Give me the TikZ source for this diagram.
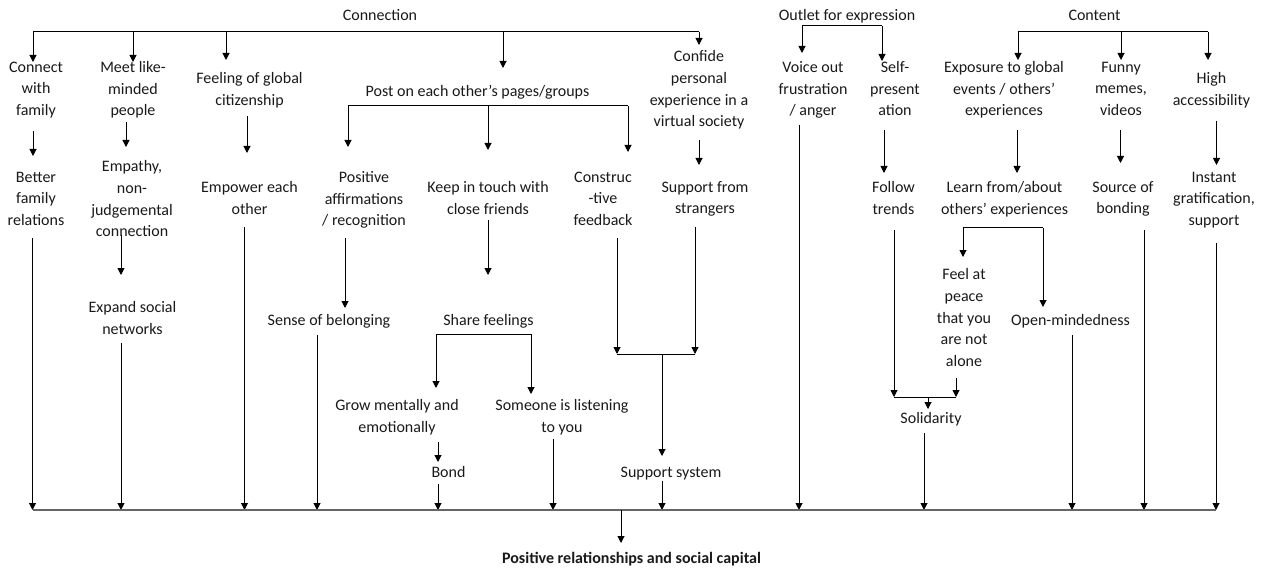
\documentclass[tikz,border=0pt]{standalone}
\usepackage{fontspec}
\setmainfont{Carlito}
\usetikzlibrary{arrows.meta}
% fixed line box so that every label has a predictable height
\newcommand\lblstrut{\vrule width 0pt height 15pt depth 6.7pt\relax}
\begin{document}
\begin{tikzpicture}[x=1pt,y=-1pt,
  line/.style={draw=black, line width=1pt},
  busline/.style={draw=black!60, line width=1.5pt},
  arr/.style={line, -{Triangle[width=7pt,length=7pt]}},
  rarr/.style={line, {Triangle[width=7pt,length=7pt]}-},
  lbl/.style={align=center, inner sep=0pt, text=black!90,
    font=\fontsize{16}{21.7}\selectfont,
    execute at begin node=\lblstrut, execute at end node=\lblstrut},
  head/.style={lbl, font=\fontsize{16}{21.7}\selectfont\bfseries}]
\useasboundingbox (0,0) rectangle (1269,572);

% headings
\node[lbl] (connection) at (380,16) {Connection};
\node[lbl] (outlet) at (847,16) {Outlet for expression};
\node[lbl] (content) at (1094.5,16) {Content};

% first row
\node[lbl] (connect) at (36,92) {Connect\\with\\family};
\node[lbl] (meet) at (133,92) {Meet like-\\minded\\people};
\node[lbl] (feeling) at (249.5,92) {Feeling of global\\citizenship};
\node[lbl] (post) at (477.5,92) {Post on each other’s pages/groups};
\node[lbl] (confide) at (699,92) {Confide\\personal\\experience in a\\virtual society};
\node[lbl] (voice) at (813,92) {Voice out\\frustration\\/ anger};
\node[lbl] (self) at (895,92) {Self-\\present\\ation};
\node[lbl] (exposure) at (1004,92) {Exposure to global\\events / others’\\experiences};
\node[lbl] (funny) at (1121,92) {Funny\\memes,\\videos};
\node[lbl] (high) at (1211.5,92) {High\\accessibility};

% second row
\node[lbl] (better) at (36,202) {Better\\family\\relations};
\node[lbl] (empathy) at (132,202) {Empathy,\\non-\\judgemental\\connection};
\node[lbl] (empower) at (249.5,201) {Empower each\\other};
\node[lbl] (positive) at (364,202) {Positive\\affirmations\\/ recognition};
\node[lbl] (keep) at (488,201) {Keep in touch with\\close friends};
\node[lbl] (construc) at (603,202) {Construc\\-tive\\feedback};
\node[lbl] (support) at (705,201) {Support from\\strangers};
\node[lbl] (follow) at (893.5,201) {Follow\\trends};
\node[lbl] (learn) at (1004.5,201) {Learn from/about\\others’ experiences};
\node[lbl] (source) at (1123,201) {Source of\\bonding};
\node[lbl] (instant) at (1214,202) {Instant\\gratification,\\support};

% lower rows
\node[lbl] (expand) at (132.5,321) {Expand social\\networks};
\node[lbl] (belong) at (329,321) {Sense of belonging};
\node[lbl] (share) at (488.5,321) {Share feelings};
\node[lbl] (feel) at (964,321) {Feel at\\peace\\that you\\are not\\alone};
\node[lbl] (open) at (1070.5,321) {Open-mindedness};
\node[lbl] (grow) at (397,419.5) {Grow mentally and\\emotionally};
\node[lbl] (listen) at (562,419.5) {Someone is listening\\to you};
\node[lbl] (solidarity) at (931,419) {Solidarity};
\node[lbl] (bond) at (448.5,473) {Bond};
\node[lbl] (supsys) at (671,473) {Support system};
\node[head] (final) at (631.5,559) {Positive relationships and social capital};

% horizontal distribution lines
\coordinate (cbus) at ([shift={(0,16)}]connection.center);
\coordinate (obus) at ([shift={(0,10)}]outlet.center);
\coordinate (nbus) at ([shift={(0,16)}]content.center);
\coordinate (pbus) at ([shift={(0,14)}]post.center);
\coordinate (sbus) at ([shift={(0,13)}]share.center);
\coordinate (lbus) at ([shift={(0,27)}]learn.center);
\coordinate (jbus) at (656,354);
\coordinate (kbus) at (925,397);
\coordinate (bus) at ([shift={(0,-49)}]final.center);

% Connection branches
\draw[rarr] ([shift={(-3,-30)}]connect.center) coordinate (c1) -- (c1 |- cbus);
\draw[rarr] ([shift={(0,-30)}]meet.center) coordinate (c2) -- (c2 |- cbus);
\draw[rarr] ([shift={(-23.5,-32)}]feeling.center) coordinate (c3) -- (c3 |- cbus);
\draw[rarr] ([shift={(25.5,-24)}]post.center) coordinate (c4) -- (c4 |- cbus);
\draw[rarr] ([shift={(0,-47)}]confide.center) coordinate (c5) -- (c5 |- cbus);
\draw[line] (c1 |- cbus) -- (c5 |- cbus);

% Outlet for expression branches
\draw[rarr] ([shift={(-11,-39)}]voice.center) coordinate (o1) -- (o1 |- obus);
\draw[rarr] ([shift={(-13,-31)}]self.center) coordinate (o2) -- (o2 |- obus);
\draw[line] (o1 |- obus) -- (o2 |- obus);

% Content branches
\draw[rarr] ([shift={(14,-32)}]exposure.center) coordinate (n1) -- (n1 |- nbus);
\draw[rarr] ([shift={(0,-32)}]funny.center) coordinate (n2) -- (n2 |- nbus);
\draw[rarr] ([shift={(-3.5,-32)}]high.center) coordinate (n3) -- (n3 |- nbus);
\draw[line] (n1 |- nbus) -- (n3 |- nbus);

% first row to second row
\draw[arr] ([shift={(-3,39)}]connect.center) -- ([shift={(-3,-46)}]better.center);
\draw[arr] ([shift={(-7,30)}]meet.center) -- ([shift={(-6,-55)}]empathy.center);
\draw[arr] ([shift={(-2.5,24)}]feeling.center) -- ([shift={(-2.5,-48)}]empower.center);
\draw[rarr] ([shift={(-16,-55)}]positive.center) coordinate (p1) -- (p1 |- pbus);
\draw[rarr] ([shift={(0,-51)}]keep.center) coordinate (p2) -- (p2 |- pbus);
\draw[rarr] ([shift={(25,-50)}]construc.center) coordinate (p3) -- (p3 |- pbus);
\draw[line] (p1 |- pbus) -- (p3 |- pbus);
\draw[arr] ([shift={(0,48)}]confide.center) -- ([shift={(-6,-36)}]support.center);
\draw[arr] ([shift={(-11,38)}]self.center) -- ([shift={(-9.5,-28)}]follow.center);
\draw[arr] ([shift={(13,38)}]exposure.center) -- ([shift={(12.5,-28)}]learn.center);
\draw[arr] ([shift={(-0.5,38)}]funny.center) -- ([shift={(-2.5,-38)}]source.center);
\draw[arr] ([shift={(5,29)}]high.center) -- ([shift={(2.5,-37)}]instant.center);

% lower links
\draw[arr] ([shift={(-11,33)}]empathy.center) -- ([shift={(-11.5,-46)}]expand.center);
\draw[arr] ([shift={(-19,36)}]positive.center) -- ([shift={(16,-13)}]belong.center);
\draw[arr] ([shift={(0,19)}]keep.center) -- ([shift={(-0.5,-46)}]share.center);
\draw[rarr] ([shift={(39,-31.5)}]grow.center) coordinate (s1) -- (s1 |- sbus);
\draw[rarr] ([shift={(-31,-25.5)}]listen.center) coordinate (s2) -- (s2 |- sbus);
\draw[line] (s1 |- sbus) -- (s2 |- sbus);
\draw[arr] ([shift={(41,22.5)}]grow.center) -- ([shift={(-10.5,-11)}]bond.center);
\draw[arr] ([shift={(14,36)}]construc.center) coordinate (j1) -- (j1 |- jbus);
\draw[arr] ([shift={(-10,26)}]support.center) coordinate (j2) -- (j2 |- jbus);
\draw[line] (j1 |- jbus) -- (j2 |- jbus);
\draw[rarr] ([shift={(-9,-17)}]supsys.center) coordinate (j3) -- (j3 |- jbus);
\draw[arr] ([shift={(0.5,29)}]follow.center) coordinate (k1) -- (k1 |- kbus);
\draw[arr] ([shift={(-8,57)}]feel.center) coordinate (k2) -- (k2 |- kbus);
\draw[line] (k1 |- kbus) -- (k2 |- kbus);
\draw[rarr] ([shift={(-3,-10)}]solidarity.center) coordinate (k3) -- (k3 |- kbus);
\draw[rarr] ([shift={(-1,-64)}]feel.center) coordinate (l1) -- (l1 |- lbus);
\draw[rarr] ([shift={(-27.5,-14)}]open.center) coordinate (l2) -- (l2 |- lbus);
\draw[line] (l1 |- lbus) -- (l2 |- lbus);

% everything flows into the bottom line
\draw[arr] ([shift={(-3.5,36)}]better.center) coordinate (b1) -- (b1 |- bus);
\draw[arr] ([shift={(-11.5,22)}]expand.center) coordinate (b2) -- (b2 |- bus);
\draw[arr] ([shift={(-5,26)}]empower.center) coordinate (b3) -- (b3 |- bus);
\draw[arr] ([shift={(-12,14)}]belong.center) coordinate (b4) -- (b4 |- bus);
\draw[arr] ([shift={(-10.5,11)}]bond.center) coordinate (b5) -- (b5 |- bus);
\draw[arr] ([shift={(-9,19.5)}]listen.center) coordinate (b6) -- (b6 |- bus);
\draw[arr] ([shift={(-9,8)}]supsys.center) coordinate (b7) -- (b7 |- bus);
\draw[arr] ([shift={(-14,33)}]voice.center) coordinate (b8) -- (b8 |- bus);
\draw[arr] ([shift={(-7,14)}]solidarity.center) coordinate (b9) -- (b9 |- bus);
\draw[arr] ([shift={(1.5,14)}]open.center) coordinate (b10) -- (b10 |- bus);
\draw[arr] ([shift={(21,29)}]source.center) coordinate (b11) -- (b11 |- bus);
\draw[arr] ([shift={(2,41)}]instant.center) coordinate (b12) -- (b12 |- bus);
\draw[busline] (b1 |- bus) -- (b12 |- bus);
\draw[rarr] ([shift={(-10.5,-16)}]final.center) coordinate (f1) -- (f1 |- bus);
\end{tikzpicture}
\end{document}
